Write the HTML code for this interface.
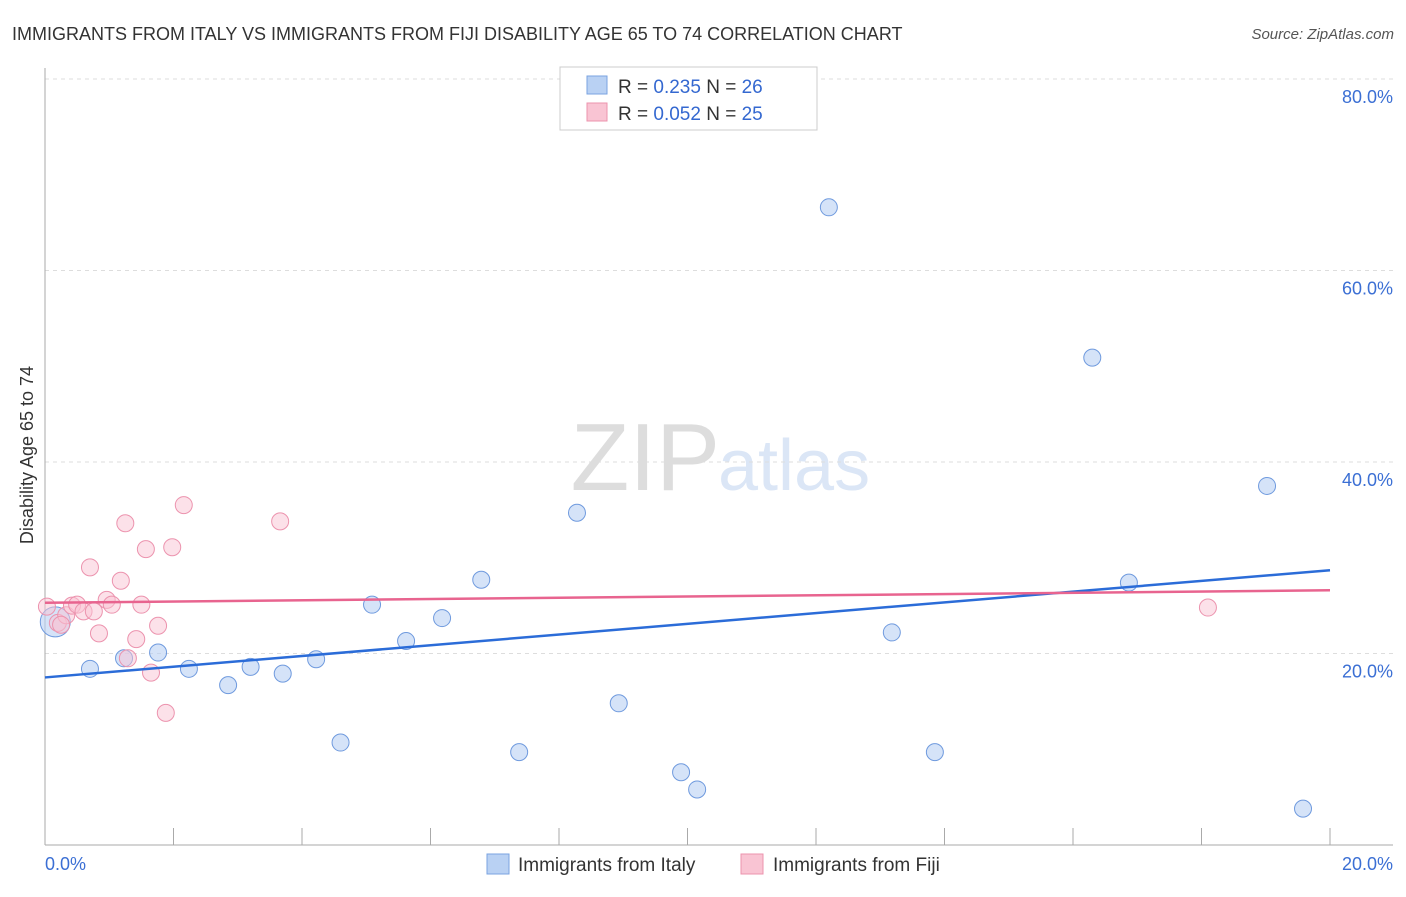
<!DOCTYPE html>
<html><head><meta charset="utf-8"><style>
body{margin:0;background:#fff;font-family:"Liberation Sans",sans-serif;}
svg text{font-family:"Liberation Sans",sans-serif;}
</style></head><body>
<svg id="c" width="1406" height="892">
<text x="12" y="40" font-size="18" fill="#333">IMMIGRANTS FROM ITALY VS IMMIGRANTS FROM FIJI DISABILITY AGE 65 TO 74 CORRELATION CHART</text>
<text x="1394" y="39" font-size="15" fill="#555" font-style="italic" text-anchor="end">Source: ZipAtlas.com</text>
<text x="720" y="490" font-size="96" fill="#ddd" text-anchor="end" font-family="Liberation Serif">ZIP</text>
<text x="718" y="490" font-size="72" fill="#dbe6f6">atlas</text>
<text transform="translate(33,455) rotate(-90)" font-size="18" fill="#333" text-anchor="middle">Disability Age 65 to 74</text>
<g id="grid"></g><g id="marks"></g>
<g>
<rect x="560" y="67" width="257" height="63" fill="#fff" stroke="#ccc"/>
<rect x="587" y="76" width="20" height="18" fill="#b9d1f3" stroke="#7aa3e0"/>
<rect x="587" y="103" width="20" height="18" fill="#f9c4d3" stroke="#ec93ae"/>
<text x="618" y="93" font-size="19" fill="#333">R = <tspan fill="#3468d0">0.235</tspan>   N = <tspan fill="#3468d0">26</tspan></text>
<text x="618" y="120" font-size="19" fill="#333">R = <tspan fill="#3468d0">0.052</tspan>   N = <tspan fill="#3468d0">25</tspan></text>
</g>
<g>
<rect x="487" y="854" width="22" height="20" fill="#b9d1f3" stroke="#7aa3e0"/>
<text x="518" y="871" font-size="19" fill="#333">Immigrants from Italy</text>
<rect x="741" y="854" width="22" height="20" fill="#f9c4d3" stroke="#ec93ae"/>
<text x="773" y="871" font-size="19" fill="#333">Immigrants from Fiji</text>
</g>
<text x="45" y="870" font-size="18" fill="#3b6fd4">0.0%</text>
<text x="1393" y="870" font-size="18" fill="#3b6fd4" text-anchor="end">20.0%</text>
</svg>
<script>
const yTicks=[20,40,60,80];
const italyX=[0.16,0.7,1.23,1.76,2.24,2.85,3.2,3.7,4.22,4.6,5.09,5.62,6.18,6.79,7.38,8.28,8.93,9.9,10.15,12.2,13.18,13.85,16.3,16.87,19.02,19.58];
const italyY=[23.3,18.4,19.5,20.1,18.4,16.7,18.6,17.9,19.4,10.7,25.1,21.3,23.7,27.7,9.7,34.7,14.8,7.6,5.8,66.6,22.2,9.7,50.9,27.4,37.5,3.8];
const fijiX=[0.03,0.2,0.33,0.42,0.5,0.6,0.7,0.76,0.84,0.96,1.04,1.18,1.25,1.29,1.42,1.5,1.57,1.65,1.76,1.88,1.98,2.16,3.66,18.1,0.25];
const fijiY=[24.9,23.2,24.0,25.0,25.1,24.4,29.0,24.4,22.1,25.6,25.1,27.6,33.6,19.5,21.5,25.1,30.9,18.0,22.9,13.8,31.1,35.5,33.8,24.8,23.0];
const italyTrend=[17.5,28.7];
const fijiTrend=[25.3,26.6];
const X=v=>45+v*64.25, Y=v=>845-v*9.575;
const NS="http://www.w3.org/2000/svg";
function mk(t,a,p){const e=document.createElementNS(NS,t);for(const k in a)e.setAttribute(k,a[k]);p.appendChild(e);return e;}
const g=document.getElementById('grid'),m=document.getElementById('marks');
yTicks.forEach(t=>{
 const l=mk('line',{x1:45,x2:1393,y1:Y(t),y2:Y(t),stroke:'#ddd','stroke-dasharray':'4,4'},g);
 
 
 const tx=mk('text',{x:1393,y:Y(t)+24,'font-size':18,fill:'#3b6fd4','text-anchor':'end'},g);
 tx.textContent=t.toFixed(1)+'%';
 
 
});
mk('line',{x1:45,x2:45,y1:68,y2:845,stroke:'#aaa'},g);
mk('line',{x1:45,x2:1393,y1:845,y2:845,stroke:'#aaa'},g);
for(let i=0;i<=10;i++){mk('line',{x1:X(i*2),x2:X(i*2),y1:828,y2:845,stroke:'#aaa'},g);}
italyX.forEach((x,i)=>{
 const c=mk('circle',{cx:X(x),cy:Y(italyY[i]),r:i==0?15:8.5,fill:'rgba(185,209,243,0.6)',stroke:'#6f9ade','stroke-width':1},m);
 
 
});
fijiX.forEach((x,i)=>{
 const c=mk('circle',{cx:X(x),cy:Y(fijiY[i]),r:8.5,fill:'rgba(249,196,211,0.5)',stroke:'#ec93ae','stroke-width':1},m);
 
 
});
const t1=mk('line',{x1:X(0),x2:X(20),y1:Y(italyTrend[0]),y2:Y(italyTrend[1]),stroke:'#2b6cd8','stroke-width':2.5},m);


const t2=mk('line',{x1:X(0),x2:X(20),y1:Y(fijiTrend[0]),y2:Y(fijiTrend[1]),stroke:'#e8648f','stroke-width':2.5},m);


</script>
</body></html>
